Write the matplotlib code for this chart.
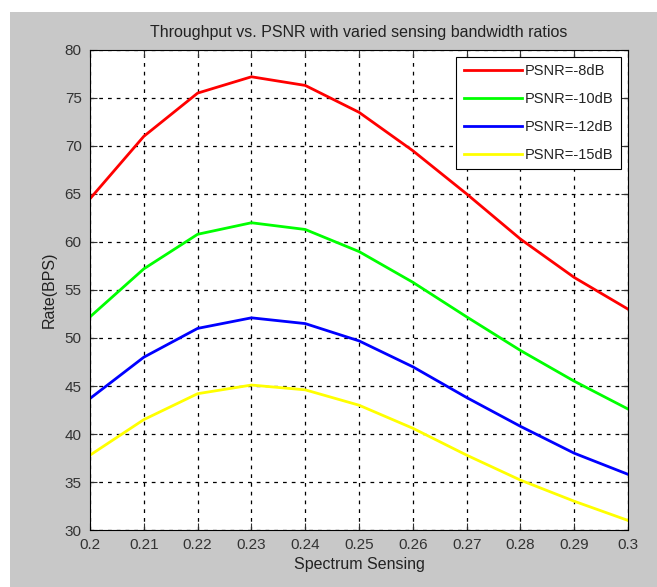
import matplotlib
matplotlib.use('Agg')
import matplotlib.pyplot as plt
import matplotlib.patches as mpatches

plt.rcParams['font.family'] = ['Liberation Sans', 'DejaVu Sans']

# data
sensing = [0.20, 0.21, 0.22, 0.23, 0.24, 0.25, 0.26, 0.27, 0.28, 0.29, 0.30]
psnr_8 = [64.5, 71.0, 75.5, 77.2, 76.3, 73.5, 69.5, 65.0, 60.3, 56.3, 53.0]
psnr_10 = [52.2, 57.2, 60.8, 62.0, 61.3, 59.0, 55.8, 52.2, 48.7, 45.5, 42.6]
psnr_12 = [43.7, 48.0, 51.0, 52.1, 51.5, 49.7, 47.0, 43.8, 40.8, 38.0, 35.8]
psnr_15 = [37.8, 41.5, 44.2, 45.1, 44.6, 43.0, 40.6, 37.8, 35.2, 33.0, 31.0]
labels = ['PSNR=-8dB', 'PSNR=-10dB', 'PSNR=-12dB', 'PSNR=-15dB']
xticks = [0.2, 0.21, 0.22, 0.23, 0.24, 0.25, 0.26, 0.27, 0.28, 0.29, 0.3]
xticklabels = ['0.2', '0.21', '0.22', '0.23', '0.24', '0.25', '0.26', '0.27', '0.28', '0.29', '0.3']

fig = plt.figure(figsize=(6.57, 5.87), dpi=100)
fig.patch.set_facecolor('#c8c8c8')
# white scan margin at top and left
fig.patches.append(mpatches.Rectangle((0, 0.98), 1, 0.02, transform=fig.transFigure,
                                      facecolor='white', edgecolor='none', zorder=0))
fig.patches.append(mpatches.Rectangle((0, 0), 0.015, 1, transform=fig.transFigure,
                                      facecolor='white', edgecolor='none', zorder=0))

ax = fig.add_axes([0.137, 0.097, 0.819, 0.818])
ax.set_facecolor('white')

ax.plot(sensing, psnr_8, color='#ff0000', lw=2, label=labels[0])
ax.plot(sensing, psnr_10, color='#00ff00', lw=2, label=labels[1])
ax.plot(sensing, psnr_12, color='#0000ff', lw=2, label=labels[2])
ax.plot(sensing, psnr_15, color='#ffff00', lw=2, label=labels[3])

ax.set_xlim(0.2, 0.3)
ax.set_ylim(30, 80)
ax.set_xticks(xticks)
ax.set_xticklabels(xticklabels)
ax.set_yticks(range(30, 81, 5))
ax.tick_params(direction='in', top=True, right=True, labelsize=11, colors='#333333',
               length=5, pad=6)
for t in ax.get_xticklabels() + ax.get_yticklabels():
    t.set_color('#333333')
ax.grid(True, color='black', linestyle=(0, (3, 4)), lw=0.9)

ax.set_title('Throughput vs. PSNR with varied sensing bandwidth ratios', fontsize=11.5,
             pad=9, color='#222222')
ax.set_xlabel('Spectrum Sensing', fontsize=11.5, labelpad=3, color='#222222')
ax.set_ylabel('Rate(BPS)', fontsize=11.5, labelpad=6, color='#222222')

leg = ax.legend(loc='upper right', fontsize=10.5, fancybox=False, framealpha=1,
                edgecolor='black', handlelength=4.0, borderaxespad=0.5,
                labelspacing=0.95, handletextpad=0.2, borderpad=0.5)
leg.get_frame().set_linewidth(0.8)
for t in leg.get_texts():
    t.set_color('#222222')

fig.savefig('out.png', dpi=100, facecolor=fig.get_facecolor())
